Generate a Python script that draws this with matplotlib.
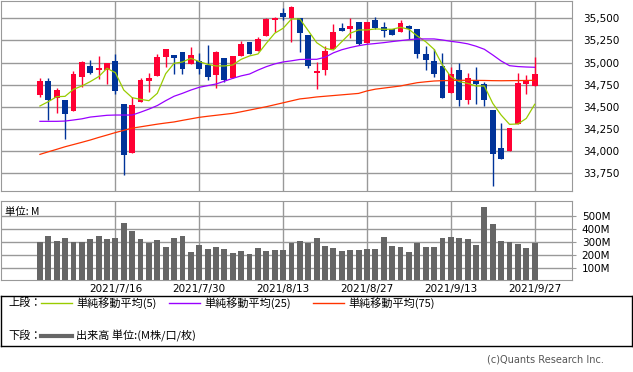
import matplotlib.pyplot as plt
import numpy as np
import pandas as pd

plt.rcParams['font.family'] = ['DejaVu Sans', 'Noto Sans CJK JP']

# jours de bourse (NYSE) du 2021/7/2 au 2021/9/27
dates = [d for d in pd.bdate_range("2021-07-02", "2021-09-27")
         if d.strftime("%m-%d") not in ("07-05", "09-06")]

opens = [34634, 34792, 34596, 34578, 34453, 34841, 34962, 34916, 34916, 35018,
         34532, 33979, 34559, 34792, 34849, 35059, 35086, 35120, 34984, 35018,
         34973, 34860, 35052, 34830, 35075, 35232, 35131, 35304, 35481, 35556,
         35500, 35500, 35312, 34879, 34916, 35154, 35391, 35380, 35459, 35225,
         35481, 35402, 35380, 35349, 35413, 35380, 35097, 35018, 34962, 34660,
         34916, 34581, 34803, 34755, 34465, 34035, 34005, 34303, 34762, 34740]
highs = [34822, 34822, 34717, 34578, 34905, 35018, 35029, 35075, 34995, 35097,
         34532, 34615, 34822, 34886, 35097, 35154, 35086, 35120, 35176, 35108,
         35199, 35131, 35052, 35075, 35248, 35232, 35289, 35504, 35511, 35617,
         35643, 35500, 35312, 35007, 35191, 35436, 35447, 35504, 35459, 35459,
         35515, 35459, 35380, 35481, 35425, 35380, 35191, 35157, 35108, 34950,
         34995, 34883, 34950, 34781, 34465, 34318, 34261, 34883, 34860, 35063]
lows = [34615, 34352, 34427, 34137, 34453, 34721, 34871, 34819, 34758, 34645,
        33734, 33979, 34559, 34672, 34849, 34954, 34871, 34871, 34984, 34871,
        34803, 34713, 34781, 34830, 35075, 35097, 35131, 35304, 35346, 35477,
        35233, 35124, 34943, 34698, 34860, 35154, 35361, 35282, 35202, 35225,
        35380, 35293, 35316, 35349, 35270, 35056, 34920, 34841, 34604, 34660,
        34514, 34529, 34536, 34514, 33610, 33915, 34005, 34303, 34649, 34740]
closes = [34792, 34578, 34690, 34419, 34871, 35007, 34886, 34939, 34995, 34683,
          33956, 34521, 34803, 34826, 35063, 35154, 35052, 34928, 35086, 34928,
          34841, 35120, 34803, 35075, 35210, 35097, 35267, 35496, 35500, 35515,
          35632, 35338, 34965, 34905, 35131, 35346, 35361, 35413, 35214, 35459,
          35391, 35361, 35316, 35447, 35380, 35101, 35029, 34871, 34604, 34871,
          34581, 34826, 34755, 34581, 33971, 33915, 34261, 34770, 34803, 34871]

# moyennes mobiles
ma5 = [34510, 34559, 34615, 34619, 34698, 34736, 34785, 34841, 34935, 34886,
       34690, 34604, 34585, 34570, 34653, 34875, 34992, 35007, 35048, 35011,
       34980, 34962, 34962, 34973, 35037, 35075, 35097, 35218, 35331, 35387,
       35492, 35492, 35360, 35225, 35161, 35142, 35236, 35331, 35368, 35368,
       35380, 35376, 35376, 35398, 35376, 35300, 35236, 35150, 34973, 34841,
       34785, 34766, 34736, 34736, 34540, 34408, 34303, 34307, 34370, 34529]
ma25 = [34337, 34337, 34337, 34340, 34352, 34365, 34385, 34395, 34405, 34408,
        34408, 34408, 34440, 34475, 34515, 34570, 34620, 34653, 34690, 34721,
        34740, 34758, 34790, 34822, 34850, 34871, 34915, 34954, 34985, 35007,
        35020, 35035, 35037, 35037, 35060, 35110, 35145, 35170, 35190, 35206,
        35215, 35225, 35237, 35248, 35258, 35267, 35267, 35267, 35255, 35240,
        35228, 35212, 35185, 35150, 35086, 35018, 34965, 34955, 34950, 34947]
ma75 = [33964, 33993, 34021, 34050, 34075, 34100, 34126, 34155, 34182, 34210,
        34235, 34260, 34275, 34290, 34305, 34318, 34330, 34348, 34365, 34382,
        34394, 34405, 34416, 34427, 34445, 34464, 34483, 34502, 34524, 34546,
        34568, 34590, 34600, 34612, 34620, 34628, 34636, 34644, 34652, 34680,
        34700, 34712, 34724, 34736, 34755, 34773, 34783, 34792, 34796, 34798,
        34800, 34800, 34799, 34798, 34796, 34795, 34796, 34797, 34798, 34800]

# volume (M)
volumes = [300, 346, 307, 331, 300, 300, 323, 346, 323, 331,
           448, 385, 323, 292, 315, 260, 331, 346, 221, 276,
           245, 260, 245, 214, 229, 206, 253, 229, 237, 237,
           294, 307, 294, 331, 268, 253, 229, 237, 237, 245,
           245, 339, 268, 260, 221, 294, 260, 260, 331, 339,
           331, 323, 276, 573, 440, 307, 300, 284, 253, 294]

price_ticks = [33750, 34000, 34250, 34500, 34750, 35000, 35250, 35500]
vol_ticks = [100, 200, 300, 400, 500]

UP = "#ff0033"
DOWN = "#003399"
GRID = "#999999"

x = np.arange(len(dates))
o = np.array(opens)
c = np.array(closes)
couleurs = np.where(c >= o, UP, DOWN)
tick_pos = x[9::10]
tick_lab = [f"{d.year}/{d.month}/{d.day}" for d in dates[9::10]]

W, H = 633, 372
fig = plt.figure(figsize=(W / 100, H / 100), dpi=100)

# ---- graphique du haut : chandeliers ----
ax = fig.add_axes([1 / W, 1 - 190.7 / H, 571 / W, 189.7 / H])
ax.vlines(x, lows, highs, colors=couleurs, lw=1, zorder=3)
ax.bar(x, np.maximum(np.abs(c - o), 8), bottom=np.minimum(o, c), width=0.7,
       color=couleurs, zorder=3)
ax.plot(x, ma5, color="#99cc00", lw=0.9, zorder=4)
ax.plot(x, ma25, color="#9900ff", lw=0.9, zorder=4)
ax.plot(x, ma75, color="#ff3300", lw=0.9, zorder=4)
ax.set_xlim(-4.64, 63.45)
ax.set_ylim(33554, 35695)
ax.set_xticks(tick_pos)
ax.set_xticklabels([])
ax.set_yticks(price_ticks)
ax.set_yticklabels([f"{v:,}" for v in price_ticks])
ax.yaxis.tick_right()
ax.tick_params(axis="both", length=0, labelsize=7.5, pad=8)
ax.grid(True, color=GRID, lw=1)
ax.set_axisbelow(True)
for s in ax.spines.values():
    s.set_color(GRID)

# ---- graphique du bas : volume ----
axv = fig.add_axes([1 / W, 1 - 280.3 / H, 571 / W, 79.3 / H])
axv.bar(x, volumes, width=0.7, color="#666666", zorder=3)
axv.set_xlim(-4.64, 63.45)
axv.set_ylim(0, 620)
axv.set_xticks(tick_pos)
axv.set_xticklabels(tick_lab)
axv.set_yticks(vol_ticks)
axv.set_yticklabels([f"{v}M" for v in vol_ticks])
axv.yaxis.tick_right()
axv.tick_params(axis="y", length=3, color=GRID, labelsize=7.5, pad=4)
axv.tick_params(axis="x", length=0, labelsize=7.5, pad=3)
axv.grid(True, color=GRID, lw=1)
axv.set_axisbelow(True)
for s in axv.spines.values():
    s.set_color(GRID)
axv.text(0.007, 0.86, "単位: M", transform=axv.transAxes, fontsize=7.5,
         va="center", family=["Noto Sans CJK JP", "DejaVu Sans"])

# ---- légende ----
axl = fig.add_axes([0.5 / W, 1 - 346 / H, 631.5 / W, 50 / H])
axl.set_xlim(0, 631.5)
axl.set_ylim(346, 296)
axl.set_xticks([])
axl.set_yticks([])
for s in axl.spines.values():
    s.set_color("black")
    s.set_linewidth(1)
jp = ["Noto Sans CJK JP", "DejaVu Sans"]
axl.text(8, 303, "上段：", fontsize=8, va="center", family=jp)
axl.text(8, 336, "下段：", fontsize=8, va="center", family=jp)
for x0, col, lab in [(40, "#99cc00", "単純移動平均(5)"),
                     (168, "#9900ff", "単純移動平均(25)"),
                     (312, "#ff3300", "単純移動平均(75)")]:
    axl.plot([x0, x0 + 31], [303, 303], color=col, lw=1)
    axl.text(x0 + 36, 303, lab, fontsize=8, va="center", family=jp)
axl.plot([40, 71], [336, 336], color="#666666", lw=3)
axl.text(76, 336, "出来高 単位:(M株/口/枚)", fontsize=8, va="center", family=jp)

fig.text(604 / W, 1 - 359 / H, "(c)Quants Research Inc.", ha="right",
         va="center", fontsize=7, color="#555555")

fig.savefig("out.png", dpi=100)
